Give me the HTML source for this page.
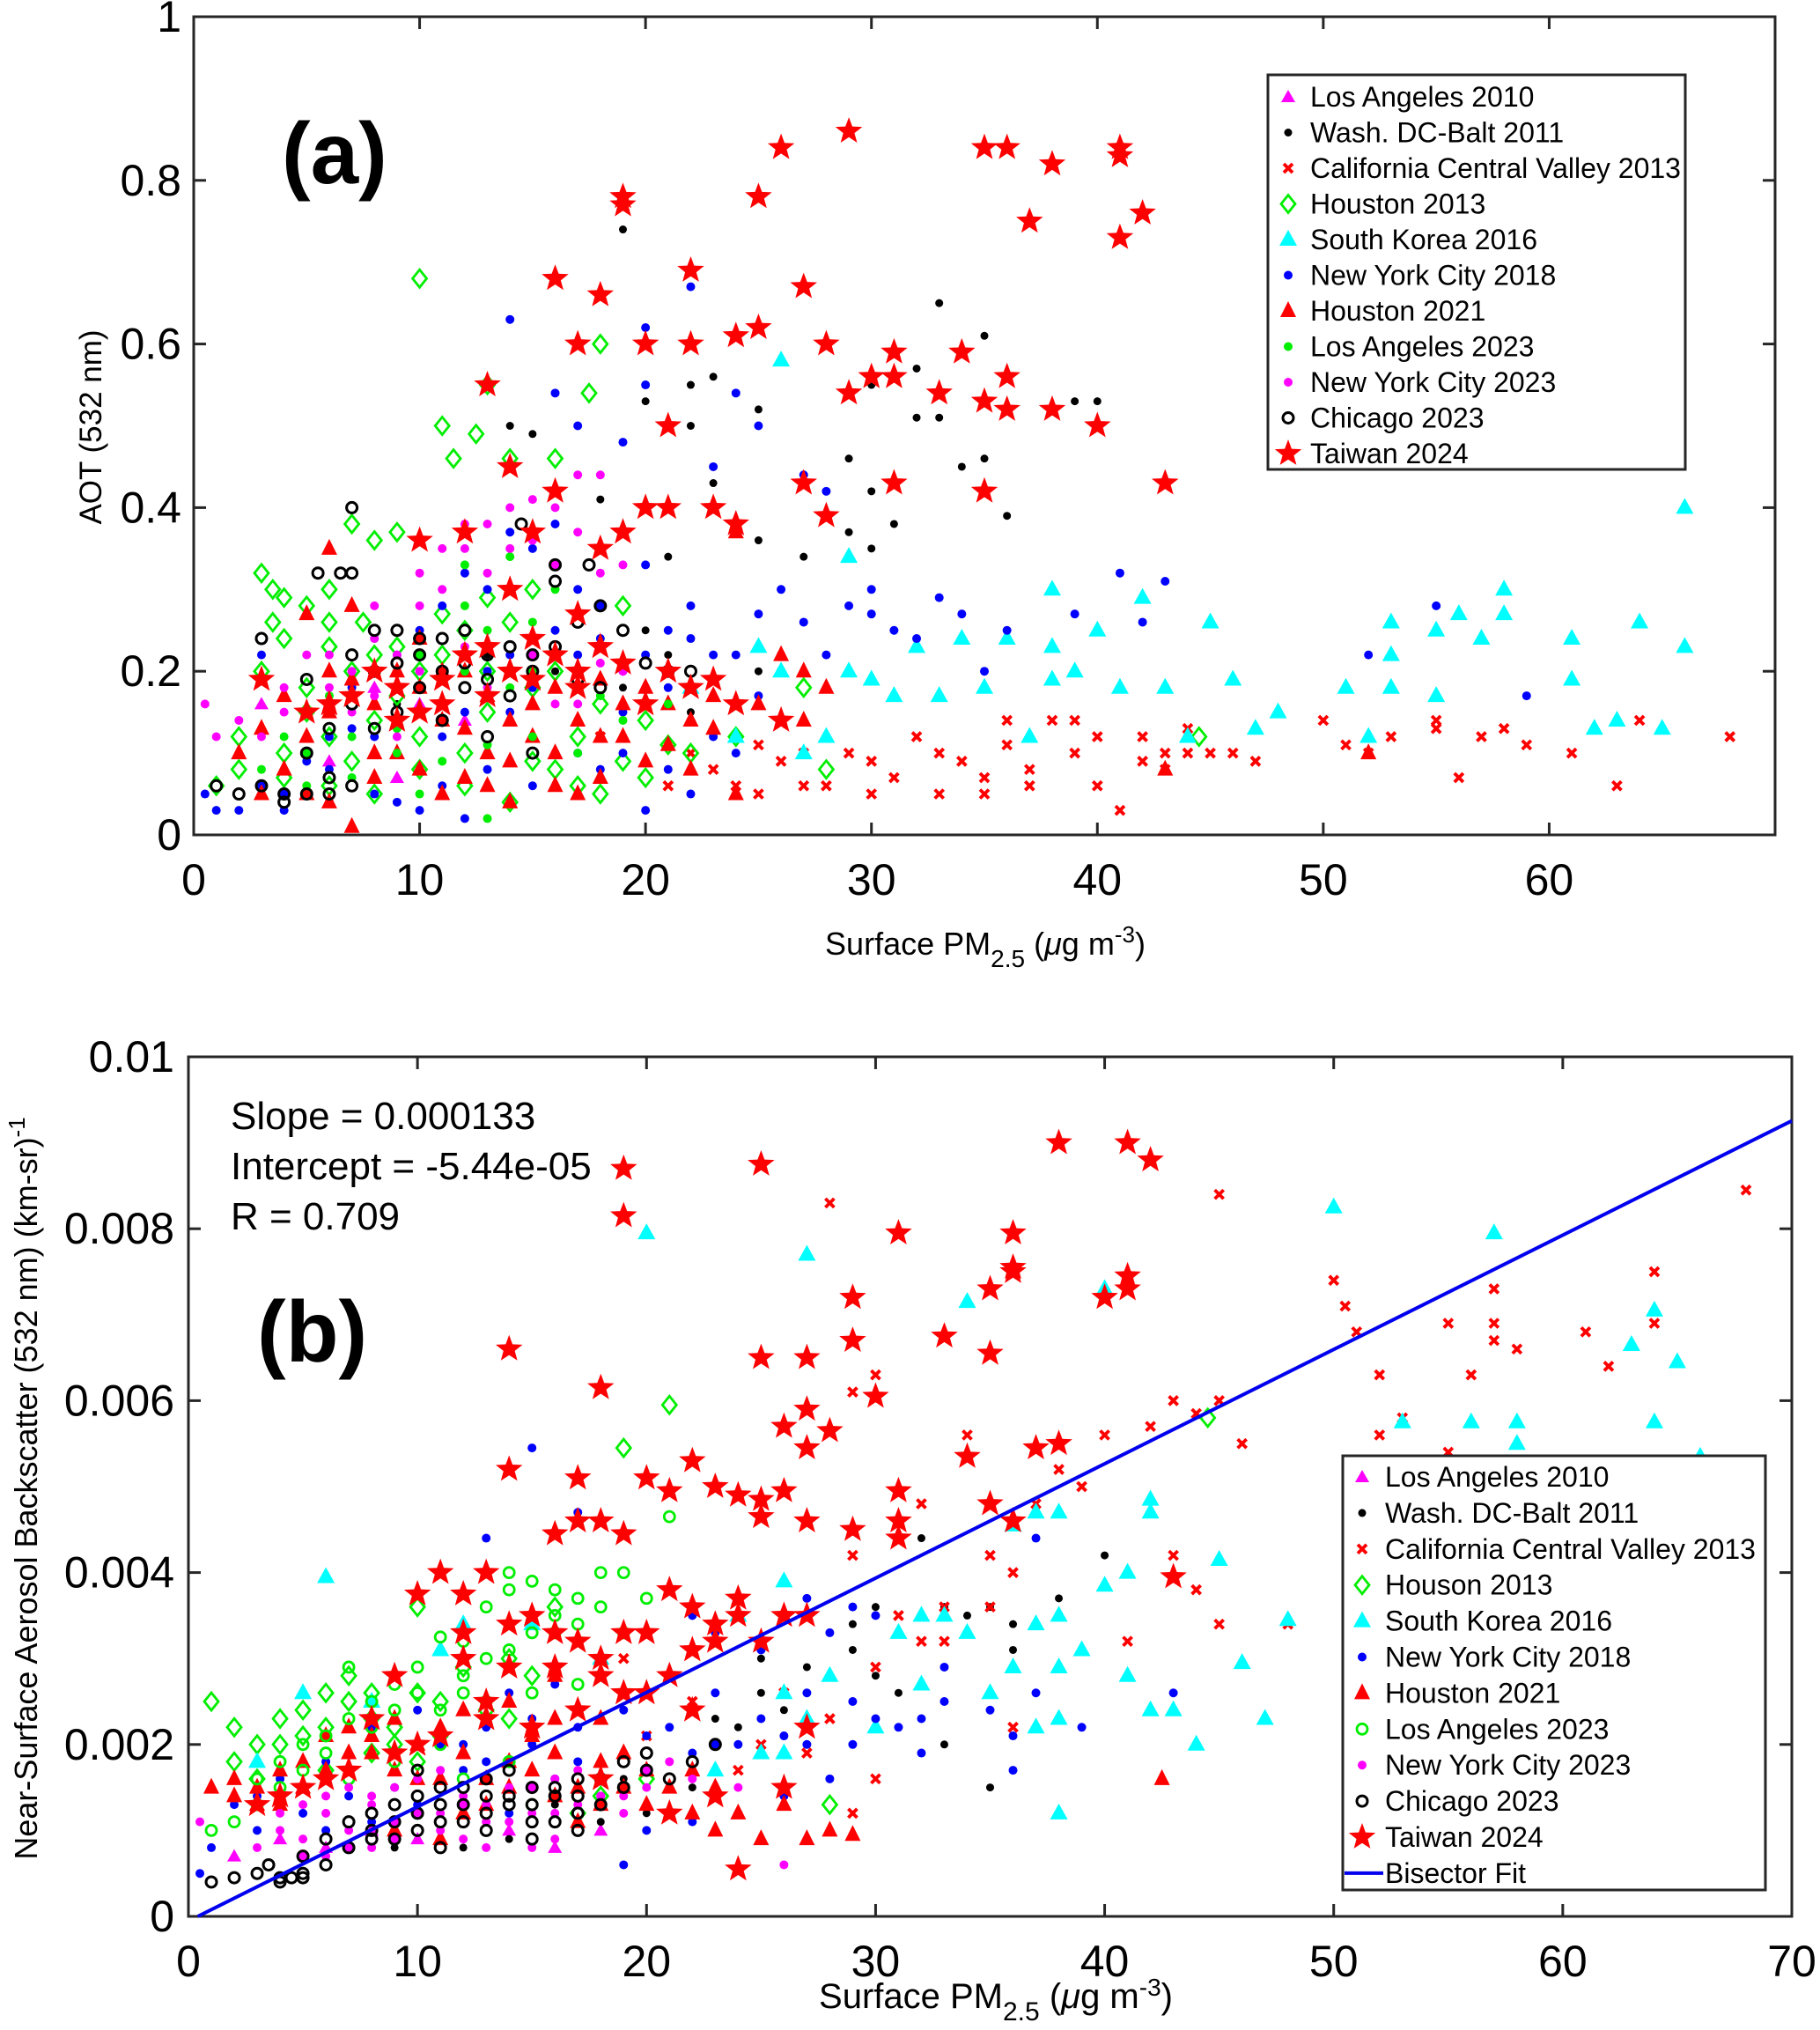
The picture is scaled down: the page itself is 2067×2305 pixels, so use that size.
<!DOCTYPE html>
<html><head><meta charset="utf-8"><style>
html,body{margin:0;padding:0;background:#fff}
svg{display:block;font-family:"Liberation Sans",Arial,sans-serif}
</style></head><body>
<svg id="chart" width="2067" height="2305" viewBox="0 0 2067 2305" xmlns="http://www.w3.org/2000/svg">
<rect width="2067" height="2305" fill="#fff"/>
<g id="pa"></g>
<g id="pb"></g>
</svg>
<script>
const seriesNames=["Los Angeles 2010","Wash. DC-Balt 2011","California Central Valley 2013","Houston 2013","South Korea 2016","New York City 2018","Houston 2021","Los Angeles 2023","New York City 2023","Chicago 2023","Taiwan 2024"];
const seriesNamesB=["Los Angeles 2010","Wash. DC-Balt 2011","California Central Valley 2013","Houson 2013","South Korea 2016","New York City 2018","Houston 2021","Los Angeles 2023","New York City 2023","Chicago 2023","Taiwan 2024","Bisector Fit"];
const xTicksA=[0,10,20,30,40,50,60];
const yTicksA=[0,0.2,0.4,0.6,0.8,1];
const yTickLabelsA=["0","0.2","0.4","0.6","0.8","1"];
const xTicksB=[0,10,20,30,40,50,60,70];
const yTicksB=[0,0.002,0.004,0.006,0.008,0.01];
const yTickLabelsB=["0","0.002","0.004","0.006","0.008","0.01"];
const fitSlope=0.000133, fitIntercept=-5.44e-05;
const statsText=["Slope = 0.000133","Intercept = -5.44e-05","R = 0.709"];

// Panel a data [PM2.5, AOT]
const a_la2010=[[3,0.16],[5,0.12],[8,0.18],[10,0.16],[12,0.14],[6,0.09],[9,0.07]];
const a_dc=[[19,0.74],[33,0.65],[35,0.61],[32,0.57],[30,0.55],[23,0.56],[22,0.55],[20,0.53],[22,0.5],[25,0.52],[29,0.46],[30,0.42],[32,0.51],[33,0.51],[34,0.45],[35,0.46],[40,0.53],[39,0.53],[36,0.39],[31,0.38],[30,0.35],[29,0.37],[27,0.34],[23,0.43],[24,0.38],[25,0.36],[21,0.34],[18,0.41],[15,0.49],[14,0.5],[20,0.25],[21,0.22],[25,0.2],[22,0.15],[19,0.18],[16,0.2],[13,0.22],[11,0.19],[9,0.16]];
const a_ca=[[25,0.05],[27,0.1],[28,0.06],[30,0.05],[31,0.07],[32,0.12],[33,0.05],[34,0.09],[35,0.05],[36,0.11],[37,0.08],[38,0.14],[39,0.1],[40,0.06],[41,0.03],[42,0.12],[43,0.08],[44,0.1],[45,0.1],[46,0.1],[50,0.14],[51,0.11],[52,0.1],[53,0.12],[55,0.14],[56,0.07],[57,0.12],[58,0.13],[59,0.11],[61,0.1],[63,0.06],[64,0.14],[68,0.12],[21,0.06],[22,0.1],[23,0.08],[24,0.06],[26,0.09],[29,0.1],[44,0.13],[36,0.14],[39,0.14],[43,0.1],[47,0.09],[55,0.13],[20,0.16],[18,0.12],[25,0.11],[27,0.06],[30,0.09],[33,0.1],[35,0.07],[37,0.06],[40,0.12],[42,0.09]];
const a_hou13=[[10,0.68],[18,0.6],[13,0.55],[11,0.5],[12.5,0.49],[11.5,0.46],[14,0.46],[16,0.46],[17.5,0.54],[8,0.36],[9,0.37],[7,0.38],[3,0.32],[3.5,0.3],[4,0.29],[5,0.28],[6,0.3],[7.5,0.26],[6,0.26],[3.5,0.26],[4,0.24],[6,0.23],[8,0.22],[10,0.2],[12,0.25],[14,0.26],[16,0.2],[19,0.28],[18,0.16],[20,0.14],[21,0.11],[22,0.1],[20,0.07],[17,0.06],[15,0.09],[12,0.1],[10,0.12],[8,0.14],[6,0.12],[4,0.1],[2,0.08],[1,0.06],[5,0.15],[7,0.09],[9,0.17],[13,0.15],[27,0.18],[28,0.08],[44.5,0.12],[24,0.12],[3,0.2],[5,0.18],[7,0.2],[9,0.23],[11,0.22],[13,0.2],[15,0.18],[17,0.12],[19,0.09],[2,0.12],[4,0.07],[6,0.06],[8,0.05],[10,0.08],[12,0.06],[14,0.04],[16,0.08],[18,0.05],[11,0.27],[13,0.29],[15,0.3]];
const a_sk=[[66,0.4],[26,0.58],[29,0.34],[38,0.3],[42,0.29],[45,0.26],[58,0.3],[58,0.27],[56,0.27],[55,0.25],[53,0.26],[57,0.24],[61,0.24],[64,0.26],[66,0.23],[53,0.22],[51,0.18],[53,0.18],[55,0.17],[52,0.12],[61,0.19],[62,0.13],[63,0.14],[65,0.13],[40,0.25],[39,0.2],[36,0.24],[34,0.24],[32,0.23],[30,0.19],[29,0.2],[25,0.23],[26,0.2],[27,0.1],[28,0.12],[31,0.17],[33,0.17],[35,0.18],[37,0.12],[38,0.19],[41,0.18],[43,0.18],[44,0.12],[46,0.19],[47,0.13],[48,0.15],[38,0.23],[24,0.12],[22,0.18]];
const a_nyc18=[[14,0.63],[16,0.54],[20,0.62],[22,0.67],[20,0.55],[17,0.5],[19,0.48],[24,0.54],[25,0.5],[23,0.45],[27,0.44],[28,0.42],[26,0.3],[29,0.28],[30,0.27],[32,0.24],[33,0.29],[34,0.27],[39,0.27],[41,0.32],[43,0.31],[42,0.26],[36,0.25],[55,0.28],[59,0.17],[52,0.22],[20,0.33],[21,0.25],[22,0.28],[23,0.22],[19,0.2],[17,0.3],[15,0.35],[13,0.3],[11,0.28],[12,0.2],[10,0.25],[9,0.18],[8,0.12],[6,0.08],[4,0.05],[2,0.03],[1,0.03],[3,0.06],[5,0.09],[7,0.13],[14,0.15],[16,0.1],[18,0.08],[20,0.03],[22,0.05],[24,0.1],[3,0.22],[0.5,0.05],[10,0.03],[12,0.02],[26,0.22],[27,0.26],[30,0.3],[35,0.2],[5,0.15],[6,0.12],[7,0.18],[8,0.2],[9,0.22],[10,0.18],[11,0.12],[12,0.15],[13,0.2],[14,0.22],[15,0.18],[16,0.25],[17,0.22],[18,0.24],[19,0.15],[20,0.22],[21,0.18],[22,0.24],[23,0.19],[24,0.22],[25,0.17],[12,0.32],[14,0.37],[16,0.38],[18,0.28],[4,0.03],[6,0.04],[8,0.05],[9,0.04],[11,0.06],[13,0.08],[15,0.06],[17,0.1],[19,0.1],[21,0.08],[23,0.12],[28,0.22],[31,0.25],[25,0.27]];
const a_hou21=[[6,0.35],[5,0.27],[7,0.28],[7,0.19],[6,0.2],[4,0.17],[3,0.13],[2,0.1],[4,0.08],[6,0.04],[7,0.01],[8,0.07],[9,0.1],[11,0.14],[12,0.2],[13,0.17],[14,0.09],[15,0.12],[16,0.18],[18,0.12],[20,0.09],[22,0.08],[24,0.05],[23,0.13],[21,0.16],[26,0.22],[27,0.2],[28,0.18],[27,0.14],[52,0.1],[43,0.08],[24,0.37],[10,0.24],[11,0.05],[13,0.06],[17,0.05],[19,0.12],[5,0.12],[6,0.15],[8,0.16],[9,0.2],[10,0.18],[11,0.2],[12,0.13],[13,0.1],[14,0.14],[15,0.16],[16,0.1],[17,0.14],[18,0.19],[19,0.16],[20,0.18],[21,0.11],[22,0.14],[23,0.17],[8,0.1],[10,0.08],[12,0.07],[14,0.04],[16,0.06],[18,0.07],[25,0.16],[5,0.05],[3,0.05]];
const a_la23=[[10,0.36],[12,0.33],[14,0.34],[16,0.3],[12,0.28],[8,0.2],[6,0.17],[4,0.12],[9,0.13],[13,0.25],[15,0.26],[17,0.2],[13,0.02],[10,0.05],[7,0.07],[5,0.06],[15,0.2],[18,0.17],[3,0.08],[5,0.1],[7,0.12],[9,0.1],[11,0.09],[13,0.11],[15,0.12],[17,0.1],[19,0.14],[21,0.16],[8,0.24],[10,0.22],[12,0.2],[14,0.18]];
const a_nyc23=[[13,0.38],[15,0.41],[16,0.42],[17,0.44],[18,0.44],[15,0.36],[14,0.35],[12,0.35],[16,0.33],[18,0.32],[11,0.3],[10,0.28],[8,0.24],[7,0.2],[6,0.18],[4,0.15],[3,0.12],[1,0.12],[0.5,0.16],[9,0.22],[11,0.19],[13,0.18],[15,0.22],[17,0.16],[19,0.2],[20,0.16],[5,0.22],[7,0.15],[9,0.12],[2,0.14],[4,0.18],[6,0.22],[8,0.17],[10,0.2],[12,0.23],[14,0.2],[16,0.16],[18,0.21],[8,0.28],[10,0.32],[12,0.38],[14,0.4],[16,0.4],[17,0.37],[19,0.33],[11,0.35],[13,0.32]];
const a_chi=[[7,0.4],[5.5,0.32],[6.5,0.32],[7,0.32],[3,0.24],[5,0.19],[5,0.1],[6,0.07],[4,0.05],[3,0.06],[2,0.05],[1,0.06],[4,0.04],[8,0.25],[9,0.25],[10,0.24],[11,0.2],[12,0.21],[13,0.22],[14,0.23],[15,0.22],[16,0.23],[17,0.26],[18,0.28],[16,0.33],[17.5,0.33],[16,0.31],[14.5,0.38],[12,0.25],[10,0.18],[9,0.15],[8,0.13],[11,0.14],[13,0.12],[15,0.1],[19,0.25],[20,0.21],[21,0.2],[22,0.2],[18,0.18],[7,0.22],[8,0.2],[9,0.21],[10,0.22],[11,0.24],[12,0.18],[13,0.19],[14,0.17],[15,0.2],[17,0.19],[7,0.16],[6,0.13],[6,0.05],[5,0.05],[7,0.06]];
const a_tw=[[19,0.77],[19,0.78],[25,0.78],[26,0.84],[29,0.86],[35,0.84],[36,0.84],[38,0.82],[41,0.84],[41,0.83],[37,0.75],[42,0.76],[41,0.73],[16,0.68],[18,0.66],[22,0.69],[27,0.67],[28,0.6],[22,0.6],[24,0.61],[25,0.62],[20,0.6],[17,0.6],[31,0.59],[31,0.56],[30,0.56],[29,0.54],[33,0.54],[35,0.53],[36,0.56],[36,0.52],[38,0.52],[40,0.5],[34,0.59],[21,0.5],[13,0.55],[14,0.45],[16,0.42],[20,0.4],[21,0.4],[23,0.4],[24,0.38],[27,0.43],[28,0.39],[31,0.43],[35,0.42],[43,0.43],[10,0.36],[12,0.37],[15,0.37],[18,0.35],[19,0.37],[14,0.3],[17,0.27],[3,0.19],[8,0.2],[12,0.22],[15,0.19],[17,0.18],[20,0.16],[22,0.18],[10,0.15],[13,0.17],[6,0.16],[24,0.16],[26,0.14],[5,0.15],[7,0.17],[9,0.18],[11,0.19],[14,0.2],[16,0.22],[18,0.23],[19,0.21],[21,0.2],[23,0.19],[13,0.23],[15,0.24],[17,0.2],[11,0.16],[9,0.14]];

// Panel b data [PM2.5, backscatter x1e-3]
const b_la2010=[[2,0.7],[4,0.9],[6,0.8],[8,1.0],[10,0.9],[12,1.2],[14,1.0],[16,0.8],[18,1.0],[20,1.3]];
const b_dc=[[32,4.4],[34,3.5],[35,3.6],[36,3.4],[33,3.6],[30,3.6],[29,3.1],[28,2.8],[27,2.6],[25,3.0],[24,2.2],[26,2.4],[31,2.6],[33,2.0],[35,1.5],[40,4.2],[38,3.7],[36,3.1],[30,2.8],[22,1.5],[20,1.2],[18,1.1],[16,1.3],[14,0.9],[12,0.8],[19,1.6],[21,1.8],[23,2.3],[25,2.6],[27,2.9],[29,3.4],[13,1.1],[11,0.9],[9,0.8]];
const b_ca=[[45,8.4],[28,8.3],[50,7.4],[50.5,7.1],[51,6.8],[52,6.3],[57,7.3],[57,6.9],[57,6.7],[55,6.9],[58,6.6],[61,6.8],[64,7.5],[64,6.9],[68,8.45],[56,6.3],[62,6.4],[53,5.8],[52,5.6],[55,5.4],[45,6.0],[44,5.85],[46,5.5],[43,6.0],[42,5.7],[40,5.6],[38,5.2],[39,5.0],[37,4.8],[36,4.0],[35,4.2],[35,3.6],[33,3.2],[32,3.2],[31,3.5],[30,2.9],[29,4.2],[29,6.1],[30,6.3],[34,5.6],[32,4.8],[43,4.2],[44,3.8],[45,3.4],[41,3.2],[48,3.4],[25,2.0],[27,1.9],[24,1.7],[28,2.3],[26,2.6],[22,2.5],[20,2.1],[19,3.0],[33,3.6],[36,2.2],[30,1.6],[29,1.2]];
const b_hou13=[[21,5.95],[19,5.45],[1,2.5],[2,1.8],[3,2.0],[4,2.3],[5,2.4],[6,2.2],[7,2.8],[8,2.6],[9,2.0],[10,1.8],[11,2.1],[13,2.4],[14,2.3],[16,3.6],[10,3.6],[28,1.3],[44.5,5.8],[17,1.2],[18,1.4],[20,1.6],[2,2.2],[3,1.6],[4,2.0],[5,2.1],[6,2.6],[7,2.5],[8,2.3],[9,2.2],[10,2.6],[11,2.5],[12,2.9],[14,3.0],[15,2.8],[6,1.7],[8,1.9]];
const b_sk=[[50,8.25],[57,7.95],[40,7.3],[34,7.15],[20,7.95],[27,7.7],[63,6.65],[64,7.05],[65,6.45],[53,5.75],[56,5.75],[58,5.75],[58,5.5],[64,5.75],[66,5.35],[42,4.85],[42,4.7],[37,4.7],[36,4.55],[38,4.7],[48,3.45],[46,2.95],[45,4.15],[41,4.0],[40,3.85],[39,3.1],[38,2.9],[37,3.4],[38,3.5],[36,2.9],[35,2.6],[34,3.3],[33,3.5],[32,3.5],[31,3.3],[32,2.7],[30,2.2],[28,2.8],[26,2.6],[27,2.3],[25,1.9],[23,1.7],[26,1.9],[38,1.2],[37,2.2],[38,2.3],[41,2.8],[42,2.4],[44,2.0],[47,2.3],[43,2.4],[6,3.95],[11,3.1],[12,3.4],[15,3.4],[18,3.0],[5,2.6],[8,2.5],[3,1.8],[26,3.9],[24,3.5]];
const b_nyc18=[[15,5.45],[13,4.4],[17,4.7],[22,3.5],[23,3.3],[25,3.1],[27,3.7],[28,3.3],[29,3.6],[30,3.5],[29,2.5],[30,2.3],[32,1.9],[33,2.5],[37,2.6],[39,2.2],[36,2.1],[36,1.7],[32,2.3],[43,2.6],[37,4.4],[24,2.0],[21,1.5],[19,1.9],[17,2.2],[15,2.0],[13,1.8],[11,1.6],[9,1.5],[7,1.4],[5,1.2],[3,1.0],[1,0.8],[2,1.3],[4,1.6],[6,1.8],[8,2.2],[10,2.4],[12,2.0],[14,2.6],[16,2.7],[18,2.3],[20,2.1],[19,0.6],[23,2.6],[20,1.0],[26,2.1],[0.5,0.5],[22,1.9],[27,2.6],[3,1.4],[5,1.5],[7,1.7],[9,1.9],[11,2.0],[13,2.2],[15,2.3],[17,1.8],[19,2.4],[21,2.2],[23,2.0],[25,2.3],[27,2.0],[29,2.0],[31,2.2],[33,2.9],[35,2.4],[28,1.6],[26,1.4],[24,1.2],[22,1.1],[6,1.0],[8,1.1],[10,1.3],[14,1.2],[16,1.6],[18,1.4],[12,1.7]];
const b_hou21=[[1,1.5],[2,1.4],[3,1.3],[4,1.7],[5,1.8],[6,2.1],[7,2.2],[8,1.9],[9,2.3],[10,2.0],[11,1.6],[12,1.2],[13,1.3],[14,1.8],[15,2.1],[16,1.4],[17,1.1],[18,1.8],[19,1.5],[20,1.3],[22,1.2],[23,1.0],[25,0.9],[27,0.9],[28,1.0],[29,0.95],[42.5,1.6],[9,1.0],[11,0.9],[14,2.5],[16,2.3],[2,1.6],[3,1.5],[4,1.3],[5,1.5],[6,1.7],[7,1.9],[8,2.1],[9,1.7],[10,1.6],[11,2.2],[12,1.9],[13,1.6],[14,1.5],[15,1.7],[16,1.9],[17,1.5],[18,1.3],[19,1.9],[20,1.7],[21,1.5],[22,1.7],[23,1.5],[24,1.2],[26,1.3],[18,2.3],[16,2.8],[12,2.4]];
const b_la23=[[7,2.9],[11,3.25],[12,3.2],[14,4.0],[15,3.9],[16,3.8],[17,3.7],[18,4.0],[19,4.0],[21,4.65],[16,3.3],[13,3.0],[12,2.8],[10,2.6],[9,2.4],[8,2.2],[6,1.9],[5,1.7],[4,1.5],[3,1.3],[2,1.1],[1,1.0],[15,2.6],[17,2.7],[14,1.8],[12,1.6],[15,1.3],[3,1.6],[4,1.8],[5,2.0],[6,2.1],[7,2.3],[8,2.5],[9,2.7],[10,2.9],[11,2.4],[12,2.6],[13,2.5],[14,3.1],[15,3.3],[16,3.5],[17,3.4],[18,3.6],[19,3.3],[20,3.7],[13,3.6],[14,3.8],[11,2.0],[9,1.8],[7,1.6]];
const b_nyc23=[[3,0.8],[4,1.0],[5,0.9],[6,1.2],[7,1.0],[8,1.3],[9,1.1],[10,1.2],[11,1.0],[12,1.4],[13,1.3],[14,1.1],[15,1.5],[16,1.2],[17,1.3],[18,1.6],[19,1.4],[20,1.7],[21,1.8],[22,1.6],[8,0.8],[12,0.9],[16,0.9],[26,0.6],[24,1.5],[0.5,1.1],[6,0.7],[4,1.2],[5,1.3],[6,1.4],[7,1.5],[8,1.4],[9,1.5],[10,1.6],[11,1.7],[12,1.3],[13,1.1],[14,1.5],[15,1.2],[16,1.6],[17,1.7],[18,1.4],[19,1.2],[20,1.5],[11,1.2],[9,0.9],[7,0.8],[5,0.7],[13,0.8],[15,0.8]];
const b_chi=[[1,0.4],[2,0.45],[3,0.5],[4,0.45],[5,0.45],[4,0.4],[3.5,0.6],[5,0.7],[6,0.9],[7,1.1],[8,1.2],[9,1.3],[10,1.4],[11,1.3],[12,1.5],[13,1.6],[14,1.4],[15,1.3],[16,1.5],[17,1.4],[18,1.6],[19,1.8],[20,1.9],[8,0.9],[10,1.0],[12,1.1],[14,1.7],[16,1.1],[15,0.9],[11,0.8],[10,1.7],[13,1.2],[17,1.2],[22,1.8],[5,0.5],[4.5,0.45],[6,0.6],[7,0.8],[8,1.0],[9,1.1],[10,1.2],[11,1.1],[12,1.3],[13,1.4],[14,1.3],[15,1.5],[16,1.4],[17,1.6],[18,1.3],[19,1.5],[20,1.7],[21,1.6],[23,2.0],[9,0.9],[11,1.5],[13,1.0],[15,1.1],[17,1.0]];
const b_tw=[[19,8.7],[25,8.75],[38,9.0],[41,9.0],[42,8.8],[19,8.15],[31,7.95],[36,7.95],[36,7.55],[36,7.5],[35,7.3],[41,7.45],[41,7.3],[40,7.2],[29,7.2],[29,6.7],[33,6.75],[35,6.55],[14,6.6],[18,6.15],[25,6.5],[27,6.5],[27,5.9],[28,5.65],[30,6.05],[26,5.7],[27,5.45],[37,5.45],[38,5.5],[34,5.35],[14,5.2],[17,5.1],[20,5.1],[21,4.95],[22,5.3],[23,5.0],[24,4.9],[25,4.85],[26,4.95],[25,4.65],[27,4.6],[29,4.5],[31,4.95],[31,4.6],[31,4.4],[35,4.8],[36,4.6],[43,3.95],[11,4.0],[12,3.75],[13,4.0],[10,3.75],[16,4.45],[17,4.6],[18,4.6],[19,4.45],[21,3.8],[22,3.6],[24,3.7],[24,3.5],[26,3.5],[27,3.5],[23,3.4],[19,3.3],[15,3.5],[17,3.2],[12,3.0],[14,2.9],[16,2.9],[18,2.8],[9,2.8],[8,2.3],[10,2.0],[24,0.55],[20,2.6],[22,2.4],[13,2.5],[6,1.6],[4,1.4],[18,1.6],[21,1.2],[23,1.4],[26,1.5],[27,2.2],[3,1.3],[5,1.5],[7,1.7],[9,1.9],[11,2.1],[13,2.3],[15,2.2],[17,2.4],[19,2.6],[21,2.8],[22,3.1],[23,3.2],[25,3.2],[18,3.0],[20,3.3],[16,3.3],[14,3.4],[12,3.3]];

const NS='http://www.w3.org/2000/svg';
const markerTypes=['tri-m','dot-k','x-r','dia-g','tri-c','dot-b','tri-r','circ-g','dot-m','circ-k','star-r'];
function mk(tag,attrs,parent){const e=document.createElementNS(NS,tag);for(const k in attrs)e.setAttribute(k,attrs[k]);parent.appendChild(e);return e;}
function starPts(cx,cy,r){let p=[];for(let i=0;i<10;i++){const a=-Math.PI/2+i*Math.PI/5;const rr=i%2?r*0.42:r;p.push((cx+rr*Math.cos(a)).toFixed(1)+','+(cy+rr*Math.sin(a)).toFixed(1));}return p.join(' ');}
function marker(type,x,y,g,hollowCircle){
  let e;
  switch(type){
    case 'tri-m': e=mk('polygon',{points:`${x},${y-8} ${x-8},${y+6} ${x+8},${y+6}`,fill:'#ff00ff'},g);break;
    case 'dot-k': e=mk('circle',{cx:x,cy:y,r:4.5,fill:'#000'},g);break;
    case 'x-r': e=mk('path',{d:`M${x-5},${y-5}L${x+5},${y+5}M${x+5},${y-5}L${x-5},${y+5}`,stroke:'#ff0000','stroke-width':3.8},g);break;
    case 'dia-g': e=mk('polygon',{points:`${x},${y-10} ${x+8},${y} ${x},${y+10} ${x-8},${y}`,fill:'none',stroke:'#00ee00','stroke-width':2.8},g);break;
    case 'tri-c': e=mk('polygon',{points:`${x},${y-11} ${x-10},${y+7} ${x+10},${y+7}`,fill:'#00ffff'},g);break;
    case 'dot-b': e=mk('circle',{cx:x,cy:y,r:5,fill:'#0000ff'},g);break;
    case 'tri-r': e=mk('polygon',{points:`${x},${y-11} ${x-9},${y+7} ${x+9},${y+7}`,fill:'#ff0000'},g);break;
    case 'circ-g': e=hollowCircle?mk('circle',{cx:x,cy:y,r:6,fill:'none',stroke:'#00ee00','stroke-width':2.8},g):mk('circle',{cx:x,cy:y,r:5,fill:'#00ee00'},g);break;
    case 'dot-m': e=mk('circle',{cx:x,cy:y,r:5,fill:'#ff00ff'},g);break;
    case 'circ-k': e=mk('circle',{cx:x,cy:y,r:6,fill:'none',stroke:'#000','stroke-width':3},g);break;
    case 'star-r': e=mk('polygon',{points:starPts(x,y,16),fill:'#ff0000'},g);break;
  }
  return e;
}
function text(parent,x,y,str,size,anchor,extra){const t=mk('text',Object.assign({x:x,y:y,'font-size':size,'text-anchor':anchor||'start',fill:'#000'},extra||{}),parent);t.textContent=str;return t;}

function drawPanel(g,cfg){
  const {L,R,T,B,xmax,ymax,xTicks,yTicks,yLabels,series,hollowLA}=cfg;
  const sx=v=>L+(R-L)*v/xmax, sy=v=>B-(B-T)*v/ymax;
  const pts=mk('g',{},g);
  
  
  series.forEach((arr,si)=>{
    const sg=mk('g',{},pts);
    
    
    arr.forEach(d=>{const e=marker(markerTypes[si],sx(d[0]),sy(d[1]*cfg.yScale),sg,hollowLA);
      
      });
  });
  const ax=mk('g',{},g);
  
  
  mk('rect',{x:L,y:T,width:R-L,height:B-T,fill:'none',stroke:'#262626','stroke-width':3},ax);
  xTicks.forEach(v=>{const x=sx(v);mk('line',{x1:x,y1:B,x2:x,y2:B-14,stroke:'#262626','stroke-width':3},ax);mk('line',{x1:x,y1:T,x2:x,y2:T+14,stroke:'#262626','stroke-width':3},ax);
    const t=text(ax,x,cfg.xTickY,String(v),50,'middle');
    
    });
  yTicks.forEach((v,i)=>{const y=sy(v);mk('line',{x1:L,y1:y,x2:L+14,y2:y,stroke:'#262626','stroke-width':3},ax);mk('line',{x1:R,y1:y,x2:R-14,y2:y,stroke:'#262626','stroke-width':3},ax);
    const t=text(ax,cfg.yTickX,y+17,yLabels[i],50,'end');
    
    });
  return {sx,sy};
}

const pa=document.getElementById('pa'), pb=document.getElementById('pb');
const seriesA=[a_la2010,a_dc,a_ca,a_hou13,a_sk,a_nyc18,a_hou21,a_la23,a_nyc23,a_chi,a_tw];
const seriesB=[b_la2010,b_dc,b_ca,b_hou13,b_sk,b_nyc18,b_hou21,b_la23,b_nyc23,b_chi,b_tw];
drawPanel(pa,{L:220,R:2016,T:19,B:948,xmax:70,ymax:1,xTicks:xTicksA,yTicks:yTicksA,yLabels:yTickLabelsA,series:seriesA,yScale:1,xTickY:1016,yTickX:206,hollowLA:false});
const sB=drawPanel(pb,{L:214,R:2035,T:1200,B:2176,xmax:70,ymax:0.01,xTicks:xTicksB,yTicks:yTicksB,yLabels:yTickLabelsB,series:seriesB,yScale:0.001,xTickY:2244,yTickX:198,hollowLA:true});

// fit line
const x0=-fitIntercept/fitSlope;
const fit=mk('line',{x1:sB.sx(x0),y1:sB.sy(0),x2:sB.sx(70),y2:sB.sy(fitSlope*70+fitIntercept),stroke:'#0000ee','stroke-width':4},pb);



// labels panel a
let t;
t=text(pa,320,208,'(a)',98,'start',{'font-weight':'bold'});
t=text(pa,0,0,'AOT (532 nm)',35,'middle',{transform:'translate(115,485) rotate(-90)'});
t=mk('text',{x:1119,y:1084,'font-size':36,'text-anchor':'middle',fill:'#000'},pa);
t.innerHTML='Surface PM<tspan font-size="28" dy="14">2.5</tspan><tspan dy="-14"> (</tspan><tspan font-style="italic">μ</tspan>g m<tspan font-size="26" dy="-14">-3</tspan><tspan dy="14">)</tspan>';


// labels panel b
t=text(pb,292,1546,'(b)',98,'start',{'font-weight':'bold'});
statsText.forEach((s,i)=>{const e=text(pb,262,1282+i*57,s,44,'start');
  
  });
t=mk('text',{'font-size':36,'text-anchor':'middle',fill:'#000',transform:'translate(42,1690) rotate(-90)'},pb);
t.innerHTML='Near-Surface Aerosol Backscatter (532 nm) (km-sr)<tspan font-size="26" dy="-14">-1</tspan>';

t=mk('text',{x:1131,y:2280,'font-size':40,'text-anchor':'middle',fill:'#000'},pb);
t.innerHTML='Surface PM<tspan font-size="30" dy="14">2.5</tspan><tspan dy="-14"> (</tspan><tspan font-style="italic">μ</tspan>g m<tspan font-size="28" dy="-14">-3</tspan><tspan dy="14">)</tspan>';


// legends
function legend(g,x,y,w,h,names,mx,tx,row0,step,withFit){
  const lg=mk('g',{},g);
  
  
  mk('rect',{x:x,y:y,width:w,height:h,fill:'#fff',stroke:'#262626','stroke-width':3},lg);
  names.forEach((n,i)=>{
    const cy=row0+i*step;
    const eg=mk('g',{},lg);
    
    
    if(i<11) marker(markerTypes[i],mx,cy,eg,withFit);
    else mk('line',{x1:mx-20,y1:cy,x2:tx-2,y2:cy,stroke:'#0000ee','stroke-width':4},eg);
    text(eg,tx,cy+11,n,32,'start');
  });
}
legend(pa,1440,85,474,448,seriesNames,1463,1488,110,40.5,false);
legend(pb,1525,1653,480,493,seriesNamesB,1547,1573,1677,40.9,true);
</script>
</body></html>
